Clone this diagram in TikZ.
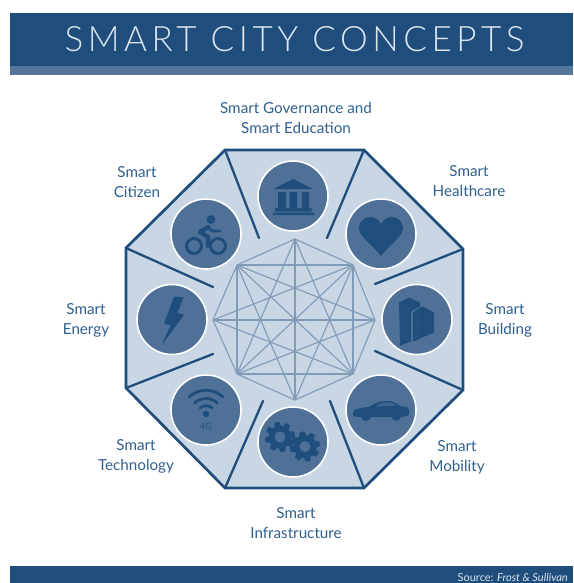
\documentclass[tikz,border=0pt]{standalone}
\usepackage{fontspec}
\setmainfont{Lato}
\newfontfamily\titlefont[LetterSpace=13]{Lato Light}
\definecolor{navy}{HTML}{1F4E7D}
\definecolor{band}{HTML}{55769B}
\definecolor{pale}{HTML}{C9D6E3}
\definecolor{disc}{HTML}{4F7198}
\definecolor{netc}{HTML}{7F9BB8}
\definecolor{textc}{HTML}{2F5F8F}
\definecolor{titlec}{HTML}{DCE4EC}
\newcommand\smartgear[2]{%
  \begin{scope}[shift={(#1,#2)}]
    \foreach \a in {0,45,...,315}{\fill[navy,rotate=\a+12] (-2.4,-15)--(2.4,-15)--(3.6,-10)--(-3.6,-10)--cycle;}
    \fill[navy] (0,0) circle (11.5);
    \fill[disc] (0,0) circle (5.5);
  \end{scope}}
\tikzset{
  iconcirc/.style={circle,fill=disc,draw=white,line width=1.6pt,minimum size=70pt,inner sep=0pt},
  lbl/.style={text=textc,font=\fontsize{15.2}{20}\selectfont,align=center,inner sep=0pt},
  rim/.style={draw=navy,line width=2.7pt,line join=miter},
  spoke/.style={draw=navy,line width=2.3pt,line cap=round},
  netline/.style={draw=netc,line width=1.1pt},
  iconline/.style={draw=navy,line cap=round,line join=round},
}
\begin{document}
\begin{tikzpicture}[x=1pt,y=-1pt]
\useasboundingbox (0,0) rectangle (573,583);
% bands
\fill[navy] (10,13) rectangle (573,66);
\fill[band] (10,66) rectangle (573,75);
\fill[navy] (10,566) rectangle (573,583);
\node[text=titlec,font=\fontsize{35}{40}\selectfont\titlefont,inner sep=0pt] (title) at (294.5,39) {SMART CITY CONCEPTS};
\node[text=titlec,font=\fontsize{11}{12}\selectfont,anchor=east,inner sep=0pt] (source) at (568,577) {Source: \textit{Frost \& Sullivan}};
% octagon
\coordinate (v1) at (225,150); \coordinate (v2) at (364,150);
\coordinate (v3) at (463,249); \coordinate (v4) at (463,390);
\coordinate (v5) at (364,488); \coordinate (v6) at (225,488);
\coordinate (v7) at (126,388); \coordinate (v8) at (126,248);
\filldraw[fill=pale,rim] (v1)--(v2)--(v3)--(v4)--(v5)--(v6)--(v7)--(v8)--cycle;
% spokes
\coordinate (s1) at (259,238); \coordinate (s2) at (327,238);
\coordinate (s3) at (375,284); \coordinate (s4) at (375,351);
\coordinate (s5) at (330,401); \coordinate (s6) at (263,401);
\coordinate (s7) at (213,354); \coordinate (s8) at (213,287);
\foreach \i in {1,...,8}{\draw[spoke] (v\i)--(s\i);}
% central net
\coordinate (n1) at (295,239); \coordinate (n2) at (353,265);
\coordinate (n3) at (375,320); \coordinate (n4) at (353,374);
\coordinate (n5) at (295,400); \coordinate (n6) at (237,374);
\coordinate (n7) at (213,320); \coordinate (n8) at (237,265);
\foreach \a/\b in {1/2,1/4,1/5,1/6,1/8,2/3,2/4,2/5,2/6,2/7,2/8,3/4,3/6,3/7,3/8,4/5,4/6,4/7,4/8,5/6,5/8,6/7,6/8,7/8}{\draw[netline] (n\a)--(n\b);}
% discs
\node[iconcirc] (gov) at (293,196) {};
\node[iconcirc] (hea) at (381,234) {};
\node[iconcirc] (bui) at (417,319.5) {};
\node[iconcirc] (mob) at (381,410) {};
\node[iconcirc] (inf) at (293,442) {};
\node[iconcirc] (tec) at (206,410) {};
\node[iconcirc] (ene) at (172,319.5) {};
\node[iconcirc] (cit) at (206,234) {};
% temple
\begin{scope}[shift={(gov.center)}]
  \fill[navy] (0,-17)--(20,-7)--(-20,-7)--cycle;
  \fill[navy] (-15,-4) rectangle (-7,12) (-3.3,-4) rectangle (4,12) (9,-4) rectangle (16,12);
  \fill[navy] (-18,12) rectangle (18.5,15.5) (-20,16.7) rectangle (21,19);
\end{scope}
% heart
\begin{scope}[shift={(hea.center)}]
  \fill[navy] (0,22) .. controls (-8,11) and (-22,3) .. (-22,-6) .. controls (-22,-13) and (-16,-17) .. (-11,-17) .. controls (-6,-17) and (-2,-14) .. (0,-10) .. controls (2,-14) and (6,-17) .. (11,-17) .. controls (16,-17) and (22,-13) .. (22,-6) .. controls (22,3) and (8,11) .. (0,22) -- cycle;
\end{scope}
% building
\begin{scope}[shift={(bui.center)}]
  \fill[navy] (-18,-17)--(-8,-22)--(3,-17)--(3,-13)--(-6,-8)--(-6,22)--(-17,26)--cycle;
  \fill[navy] (-4,-7)--(5,-13)--(17,-7)--(17,13)--(-4,22)--cycle;
  \foreach \y in {-12,-9,...,22}{\draw[navy!70!band,line width=.6pt] (-17,\y)--(-8,\y-2);}
  \foreach \y in {-3,0,...,18}{\draw[navy!70!band,line width=.6pt] (-3,\y)--(4,\y-2);}
\end{scope}
% car
\begin{scope}[shift={(mob.center)}]
  \fill[navy] (-28,4) .. controls (-28,0) and (-26,-1) .. (-24,-1) .. controls (-16,-3) and (-13,-3) .. (-12,-3) .. controls (-7,-7) and (-1,-9) .. (6,-9) .. controls (13,-9) and (16,-6) .. (19,-4) .. controls (23,-3) and (27,-3) .. (27,-2) .. controls (29,1) and (29,5) .. (26,6) -- (20,7) .. controls (19,12) and (11,12) .. (11,7) -- (-10,7) .. controls (-11,12) and (-19,12) .. (-20,7) .. controls (-25,7) and (-28,7) .. (-28,4) -- cycle;
  \fill[disc!70!navy] (-5,-3.5) .. controls (-2,-6.5) and (3,-7.5) .. (6,-7.5) .. controls (10,-7.5) and (14,-6) .. (16,-4.5) -- cycle;
\end{scope}
% gears
\begin{scope}[shift={(inf.center)}]
  \smartgear{-13}{-5}
  \smartgear{12}{4.5}
\end{scope}
% wifi
\begin{scope}[shift={(tec.center)}]
  \draw[iconline,line width=2.8pt] (-17,-13) .. controls (-7,-22) and (7,-22) .. (17,-13);
  \draw[iconline,line width=2.8pt] (-11.5,-7) .. controls (-5,-13) and (5,-13) .. (11.5,-7);
  \draw[iconline,line width=2.8pt] (-6,-2) .. controls (-3,-5) and (3,-5) .. (6,-2);
  \fill[navy] (0,4) circle (3.2);
  \node[text=navy,font=\fontsize{9}{10}\selectfont,inner sep=0pt] (fourg) at (0,16) {4G};
\end{scope}
% bolt
\begin{scope}[shift={(ene.center)}]
  \fill[navy] (2,-23)--(11.7,-22)--(5.3,-6.7)--(12,-4.7)--(-10.7,26)--(-1.3,6)--(-8,4.3)--cycle;
\end{scope}
% bike
\begin{scope}[shift={(cit.center)}]
  \fill[navy] (5,-14.5) circle (4.4);
  \draw[iconline,line width=3pt] (-12,12) circle (7.5) (12,12) circle (7.5);
  \draw[iconline,line width=4.5pt] (2,-7)--(-6,-2)--(2,3)--(2,12);
  \draw[iconline,line width=2.8pt] (2,-7)--(6,-3)--(14,-3);
\end{scope}
% labels
\node[lbl] (lgov) at (296,118) {Smart Governance and\\Smart Education};
\node[lbl] (lhea) at (469,181) {Smart\\Healthcare};
\node[lbl] (lbui) at (505,320) {Smart\\Building};
\node[lbl] (lmob) at (457,457) {Smart\\Mobility};
\node[lbl] (linf) at (296,523.5) {Smart\\Infrastructure};
\node[lbl] (ltec) at (136,456.5) {Smart\\Technology};
\node[lbl] (lene) at (86,320) {Smart\\Energy};
\node[lbl] (lcit) at (137,182) {Smart\\Citizen};
\end{tikzpicture}
\end{document}
